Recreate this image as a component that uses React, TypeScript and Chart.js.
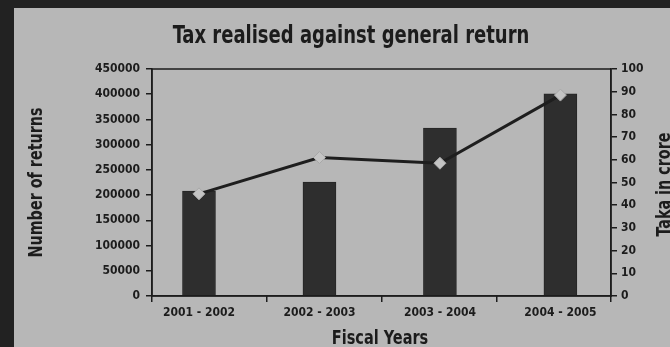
import React, { useEffect, useRef } from "react";
import { Chart, registerables } from "chart.js";

Chart.register(...registerables);

const TITLE = "Tax realised against general return";
const X_TITLE = "Fiscal Years";
const Y_TITLE = "Number of returns";
const Y1_TITLE = "Taka in crore";
const categories = ["2001 - 2002", "2002 - 2003", "2003 - 2004", "2004 - 2005"];
const returnsCount = [208000, 226000, 333000, 401000];
const takaInCrore = [45, 61, 58.5, 88.5];
const leftTicks = [0, 50000, 100000, 150000, 200000, 250000, 300000, 350000, 400000, 450000];
const rightTicks = [0, 10, 20, 30, 40, 50, 60, 70, 80, 90, 100];

const FONT = '"DejaVu Sans Condensed", "Liberation Sans", sans-serif';
const INK = "#1c1c1c";
const BG = "#b7b7b7";

function drawNarrow(ctx: CanvasRenderingContext2D, text: string, x: number, y: number, size: number, rot: number, sx: number) {
  ctx.save();
  ctx.translate(x, y);
  ctx.rotate(rot);
  ctx.scale(sx, 1);
  ctx.font = `bold ${size}px ${FONT}`;
  ctx.fillText(text, 0, 0);
  ctx.restore();
}

const decor = {
  id: "decor",
  beforeDraw(chart: any) {
    const { ctx, width, height } = chart;
    ctx.save();
    ctx.fillStyle = BG;
    ctx.fillRect(0, 0, width, height);
    ctx.fillStyle = "#222222";
    ctx.fillRect(0, 0, 14, height);
    ctx.fillRect(0, 0, width, 8);
    ctx.restore();
  },
  afterDraw(chart: any) {
    const { ctx, chartArea } = chart;
    const { left, right, top, bottom } = chartArea;
    ctx.save();
    ctx.strokeStyle = INK;
    ctx.lineWidth = 1.5;
    ctx.strokeRect(left, top, right - left, bottom - top);
    ctx.fillStyle = INK;
    ctx.textAlign = "center";
    ctx.textBaseline = "middle";
    drawNarrow(ctx, TITLE, 351, 36, 25, 0, 0.8);
    drawNarrow(ctx, X_TITLE, 380, 339, 19, 0, 0.85);
    const midY = (top + bottom) / 2;
    drawNarrow(ctx, Y_TITLE, 37, midY, 19, -Math.PI / 2, 0.84);
    drawNarrow(ctx, Y1_TITLE, 665, midY + 2, 19, -Math.PI / 2, 0.84);
    ctx.restore();
  },
};

const tickFont = { family: FONT, size: 12, weight: "bold" as const };

export default function App() {
  const ref = useRef<HTMLCanvasElement>(null);
  useEffect(() => {
    const canvas = ref.current!;
    const chart = new Chart(canvas, {
      type: "bar",
      data: {
        labels: categories,
        datasets: [
          {
            type: "line",
            label: Y1_TITLE,
            data: takaInCrore.map((v, i) => ({ x: i, y: v })),
            xAxisID: "x",
            yAxisID: "y1",
            borderColor: "#1e1e1e",
            borderWidth: 3,
            pointStyle: "rectRot",
            pointRadius: 6,
            pointBackgroundColor: "#c4c4c4",
            pointBorderColor: "#a8a8a8",
            pointBorderWidth: 1,
            tension: 0,
            order: 0,
          } as any,
          {
            type: "bar",
            label: Y_TITLE,
            data: returnsCount.map((v, i) => ({ x: i, y: v })),
            xAxisID: "x",
            yAxisID: "y",
            backgroundColor: "#2e2e2e",
            borderColor: "#262626",
            borderWidth: 1,
            barThickness: 33,
            order: 1,
          } as any,
        ],
      },
      options: {
        responsive: false,
        animation: false,
        layout: { padding: { top: 69, left: 0, right: 0, bottom: 0 } },
        plugins: { legend: { display: false }, tooltip: { enabled: false }, title: { display: false } },
        scales: {
          xc: {
            type: "category",
            position: "bottom",
            offset: true,
            weight: 0,
            grid: { offset: true, drawOnChartArea: false, tickLength: 6, color: INK, lineWidth: 1.5 } as any,
            border: { display: false },
            ticks: { display: false },
            afterFit(scale: any) {
              scale.height = 0;
            },
          } as any,
          x: {
            type: "linear",
            position: "bottom",
            weight: 1,
            offset: false,
            min: -0.39,
            max: 3.42,
            afterBuildTicks(scale: any) {
              scale.ticks = categories.map((_, i) => ({ value: i }));
            },
            grid: { display: false, offset: false },
            border: { color: INK, width: 1.5 },
            ticks: {
              color: INK,
              font: tickFont,
              padding: 2,
              maxRotation: 0,
              autoSkip: false,
              callback: (v: any) => categories[Math.round(Number(v))] ?? "",
            },
            afterFit(scale: any) {
              scale.height = 51;
            },
          } as any,
          y: {
            position: "left",
            min: 0,
            max: 450000,
            afterBuildTicks(scale: any) {
              scale.ticks = leftTicks.map((v) => ({ value: v }));
            },
            grid: { drawOnChartArea: false, tickLength: 6, color: INK, lineWidth: 1.5 },
            border: { color: INK, width: 1.5 },
            ticks: { color: INK, font: tickFont, padding: 6, callback: (v: any) => String(v) },
            afterFit(scale: any) {
              scale.width = 152;
            },
          },
          y1: {
            position: "right",
            min: 0,
            max: 100,
            afterBuildTicks(scale: any) {
              scale.ticks = rightTicks.map((v) => ({ value: v }));
            },
            grid: { drawOnChartArea: false, tickLength: 6, color: INK, lineWidth: 1.5 },
            border: { color: INK, width: 1.5 },
            ticks: { color: INK, font: tickFont, padding: 4, callback: (v: any) => String(v) },
            afterFit(scale: any) {
              scale.width = 59;
            },
          },
        },
      },
      plugins: [decor],
    });
    return () => chart.destroy();
  }, []);
  return (
    <div style={{ position: "fixed", left: 0, top: 0, width: 670, height: 347, background: BG }}>
      <canvas ref={ref} width={670} height={347} style={{ display: "block" }} />
    </div>
  );
}
